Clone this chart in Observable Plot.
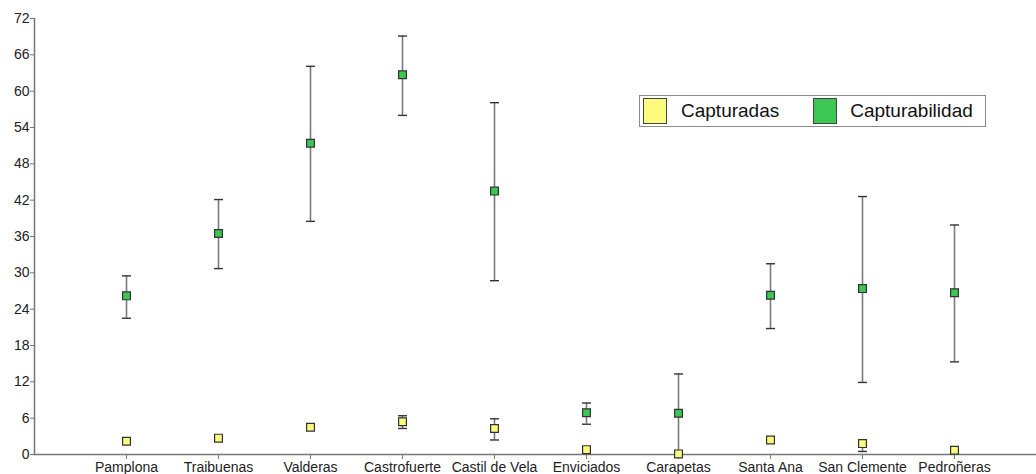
<!DOCTYPE html>
<html>
<head>
<meta charset="utf-8">
<script src="https://cdn.jsdelivr.net/npm/d3@7"></script>
<script src="https://cdn.jsdelivr.net/npm/@observablehq/plot@0.6"></script>
<style>
  html, body { margin: 0; padding: 0; background: #fff; }
  #wrap { position: relative; width: 1036px; height: 474px; font-family: "Liberation Sans", Arial, sans-serif; }
  #legend { position: absolute; left: 639px; top: 95px; width: 345px; height: 30px;
    border: 1.5px solid #8a8a8a; background: #fff; display: flex; align-items: center; font-size: 19px; color: #111; box-sizing: content-box; }
  .sw { flex: 0 0 auto; width: 22px; height: 24px; border: 1px solid #444; margin-left: 3px; margin-right: 14px; }
  .sw2 { margin-left: 0; margin-right: 13px; }
  .lab { flex: 0 0 auto; margin-right: 34px; white-space: nowrap; }
</style>
</head>
<body>
<div id="wrap">
  <div id="chart"></div>
  <div id="legend"></div>
</div>
<script>
const categories = ["Pamplona", "Traibuenas", "Valderas", "Castrofuerte", "Castil de Vela", "Enviciados", "Carapetas", "Santa Ana", "San Clemente", "Pedroñeras"];
const capturadas   = [2.2, 2.7, 4.5, 5.4, 4.3, 0.8, 0.1, 2.4, 1.8, 0.7];
const capturadasLo = [2.2, 2.7, 4.3, 4.3, 2.4, 0.8, 0.1, 2.4, 0.5, 0.7];
const capturadasHi = [2.2, 2.7, 4.7, 6.4, 5.9, 0.8, 0.1, 2.4, 2.4, 0.7];
const capturabilidad   = [26.2, 36.5, 51.4, 62.7, 43.5, 6.9, 6.8, 26.3, 27.4, 26.7];
const capturabilidadLo = [22.5, 30.7, 38.5, 56.0, 28.7, 5.0, 0.0, 20.8, 11.9, 15.3];
const capturabilidadHi = [29.5, 42.1, 64.1, 69.1, 58.1, 8.5, 13.3, 31.5, 42.6, 37.9];
const seriesNames = ["Capturadas", "Capturabilidad"];
const seriesColors = ["#fbfb7e", "#3cc653"];
const yTicks = [0, 6, 12, 18, 24, 30, 36, 42, 48, 54, 60, 66, 72];

const rows = [];
categories.forEach((c, i) => {
  rows.push({cat: c, serie: seriesNames[0], v: capturadas[i], lo: capturadasLo[i], hi: capturadasHi[i]});
  rows.push({cat: c, serie: seriesNames[1], v: capturabilidad[i], lo: capturabilidadLo[i], hi: capturabilidadHi[i]});
});
const withErr = rows.filter(d => d.hi > d.lo);

const cap = { draw(ctx, size) { ctx.moveTo(-4.5, 0); ctx.lineTo(4.5, 0); } };

const chart = Plot.plot({
  width: 1036,
  height: 474,
  marginLeft: 34,
  marginRight: 0,
  marginTop: 18,
  marginBottom: 20,
  style: { fontFamily: "'Liberation Sans', Arial, sans-serif", fontSize: "14px", color: "#222", background: "#fff" },
  x: { type: "point", domain: categories, range: [122, 957], padding: 0 },
  y: { domain: [0, 72] },
  color: { domain: seriesNames, range: seriesColors },
  marks: [
    Plot.frame({ anchor: "left", stroke: "#777", strokeWidth: 1.5 }),
    Plot.frame({ anchor: "bottom", stroke: "#777", strokeWidth: 1.5 }),
    Plot.axisY({ ticks: yTicks, tickSize: 4, tickPadding: 1, label: null, stroke: "#777", fill: "#222" }),
    Plot.axisX({ tickSize: 5, tickPadding: 3, label: null, stroke: "#777", fill: "#222" }),
    Plot.ruleX(withErr, { x: "cat", y1: "lo", y2: "hi", stroke: "#7a7a7a", strokeWidth: 1.6 }),
    Plot.dot(withErr, { x: "cat", y: "lo", symbol: cap, r: 4, stroke: "#333", strokeWidth: 1.4 }),
    Plot.dot(withErr, { x: "cat", y: "hi", symbol: cap, r: 4, stroke: "#333", strokeWidth: 1.4 }),
    Plot.dot(rows, { x: "cat", y: "v", symbol: "square", r: 4.4, fill: "serie", stroke: "#333", strokeWidth: 1.2 })
  ]
});
document.getElementById("chart").appendChild(chart);

const legend = document.getElementById("legend");
seriesNames.forEach((n, i) => {
  const sw = document.createElement("div");
  sw.className = i === 0 ? "sw" : "sw sw2";
  sw.style.background = seriesColors[i];
  const lab = document.createElement("span");
  lab.className = "lab";
  lab.textContent = n;
  legend.appendChild(sw);
  legend.appendChild(lab);
});
</script>
</body>
</html>
